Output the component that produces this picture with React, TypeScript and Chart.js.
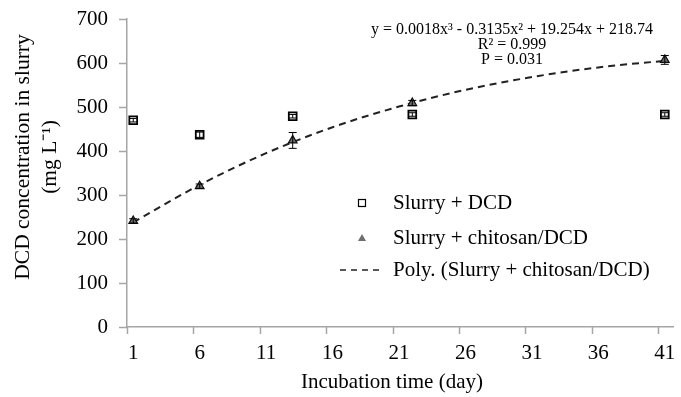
import React, { useEffect, useRef } from "react";
import { Chart, registerables } from "chart.js";

Chart.register(...registerables);

// ---- data ----
const days = [1, 6, 13, 22, 41];
const slurryDCD = [470, 437, 479, 483, 483];
const slurryDCDErr = [4, 6, 4, 4, 4];
const chitosanDCD = [241, 320, 424, 509, 607];
const chitosanDCDErr = [5, 5, 18, 6, 10];
const trendDays = [1, 6, 11, 16, 21, 26, 31, 36, 41];
const trendValues = [238, 323, 395, 454, 501, 539, 568, 590, 605];
const xTickValues = [1, 6, 11, 16, 21, 26, 31, 36, 41];
const yTickValues = [0, 100, 200, 300, 400, 500, 600, 700];

const seriesNames = ["Slurry + DCD", "Slurry + chitosan/DCD", "Poly. (Slurry + chitosan/DCD)"];
const equationLines = ["y = 0.0018x³ - 0.3135x² + 19.254x + 218.74", "R² = 0.999", "P = 0.031"];
const yTitleLines = ["DCD concentration in slurry", "(mg L⁻¹)"];
const xTitle = "Incubation time (day)";

const FONT = '"Liberation Serif", "Times New Roman", serif';
const AXIS_COLOR = "#a6a6a6";
const TRI_FILL = "#6e6e6e";
const AREA_RIGHT = 680;

const overlayPlugin = {
  id: "overlay",
  afterDatasetsDraw(chart: any) {
    const ctx = chart.ctx as CanvasRenderingContext2D;
    const xs = chart.scales.x;
    const ys = chart.scales.y;
    ctx.save();
    const drawErr = (vals: number[], errs: number[]) => {
      ctx.strokeStyle = "#000";
      ctx.lineWidth = 1;
      vals.forEach((v, i) => {
        const px = xs.getPixelForValue(days[i]);
        const top = ys.getPixelForValue(v + errs[i]);
        const bot = ys.getPixelForValue(v - errs[i]);
        ctx.beginPath();
        ctx.moveTo(px, top);
        ctx.lineTo(px, bot);
        ctx.moveTo(px - 4, top);
        ctx.lineTo(px + 4, top);
        ctx.moveTo(px - 4, bot);
        ctx.lineTo(px + 4, bot);
        ctx.stroke();
      });
    };
    drawErr(slurryDCD, slurryDCDErr);
    drawErr(chitosanDCD, chitosanDCDErr);
    ctx.restore();
  },
  afterDraw(chart: any) {
    const ctx = chart.ctx as CanvasRenderingContext2D;
    const xs = chart.scales.x;
    const ys = chart.scales.y;
    const area = chart.chartArea;
    ctx.save();
    // tick marks
    ctx.strokeStyle = AXIS_COLOR;
    ctx.lineWidth = 1.5;
    xTickValues.forEach((v) => {
      const px = Math.round(xs.getPixelForValue(v) - 6.5) + 0.5;
      ctx.beginPath();
      ctx.moveTo(px, area.bottom);
      ctx.lineTo(px, area.bottom + 7);
      ctx.stroke();
    });
    yTickValues.forEach((v) => {
      const py = Math.round(ys.getPixelForValue(v)) + 0.5;
      ctx.beginPath();
      ctx.moveTo(area.left - 8, py);
      ctx.lineTo(area.left, py);
      ctx.stroke();
    });

    // equation
    ctx.fillStyle = "#000";
    ctx.textAlign = "center";
    ctx.textBaseline = "middle";
    ctx.font = `16px ${FONT}`;
    const eqY = [30, 45, 60];
    equationLines.forEach((t, i) => ctx.fillText(t, 512, eqY[i]));

    // x title
    ctx.font = `21px ${FONT}`;
    ctx.fillText(xTitle, 392, 382);

    // y title
    ctx.font = `21.5px ${FONT}`;
    const tx = [23, 50];
    yTitleLines.forEach((t, i) => {
      ctx.save();
      ctx.translate(tx[i], 157);
      ctx.rotate(-Math.PI / 2);
      ctx.fillText(t, 0, 0);
      ctx.restore();
    });

    // legend
    ctx.textAlign = "left";
    ctx.font = `21px ${FONT}`;
    const ly = [203, 238, 270];
    const mx = 362;
    ctx.strokeStyle = "#000";
    ctx.lineWidth = 1.2;
    ctx.fillStyle = "#fff";
    ctx.fillRect(mx - 3.5, ly[0] - 3.5, 7, 7);
    ctx.strokeRect(mx - 3.5, ly[0] - 3.5, 7, 7);
    ctx.fillStyle = TRI_FILL;
    ctx.beginPath();
    ctx.moveTo(mx, ly[1] - 4);
    ctx.lineTo(mx + 4, ly[1] + 3);
    ctx.lineTo(mx - 4, ly[1] + 3);
    ctx.closePath();
    ctx.fill();
    ctx.strokeStyle = "#222";
    ctx.lineWidth = 1.5;
    ctx.setLineDash([6, 5]);
    ctx.beginPath();
    ctx.moveTo(340, ly[2]);
    ctx.lineTo(384, ly[2]);
    ctx.stroke();
    ctx.setLineDash([]);
    ctx.fillStyle = "#000";
    seriesNames.forEach((t, i) => ctx.fillText(t, 393, ly[i]));
    ctx.restore();
  },
};

export default function App() {
  const ref = useRef<HTMLCanvasElement | null>(null);
  useEffect(() => {
    if (!ref.current) return;
    const chart: any = new Chart(ref.current, {
      type: "scatter",
      data: {
        datasets: [
          {
            type: "line",
            label: seriesNames[2],
            data: trendDays.map((d, i) => ({ x: d, y: trendValues[i] })),
            borderColor: "#222",
            borderWidth: 2,
            borderDash: [7, 5],
            pointRadius: 0,
            fill: false,
            cubicInterpolationMode: "monotone",
            order: 3,
          } as any,
          {
            label: seriesNames[0],
            data: days.map((d, i) => ({ x: d, y: slurryDCD[i] })),
            pointStyle: "rect",
            pointRadius: 5.5,
            backgroundColor: "#fff",
            borderColor: "#000",
            borderWidth: 1.8,
            order: 1,
          },
          {
            label: seriesNames[1],
            data: days.map((d, i) => ({ x: d, y: chitosanDCD[i] })),
            pointStyle: "triangle",
            pointRadius: 5,
            backgroundColor: TRI_FILL,
            borderColor: "#111",
            borderWidth: 1.2,
            order: 2,
          },
        ],
      },
      options: {
        animation: false,
        responsive: false,
        maintainAspectRatio: false,
        layout: { padding: { top: 19, right: 1, left: 0, bottom: 0 } },
        plugins: { legend: { display: false }, tooltip: { enabled: false } },
        scales: {
          x: {
            type: "linear",
            min: 0.53,
            max: 41.67,
            afterBuildTicks: (s: any) => {
              s.ticks = xTickValues.map((v) => ({ value: v }));
            },
            afterFit: (s: any) => {
              s.height = 70;
              s.paddingLeft = 0;
              s.paddingRight = 0;
            },
            grid: { display: true, drawOnChartArea: false, drawTicks: true, tickLength: 14, tickColor: "rgba(0,0,0,0)" },
            border: { display: true, color: AXIS_COLOR, width: 1.5 },
            ticks: {
              color: "#000",
              font: { family: FONT, size: 21 },
              padding: 0,
              maxRotation: 0,
              autoSkip: false,
              callback: (v: any) => String(v),
            },
          },
          y: {
            min: 0,
            max: 700,
            afterBuildTicks: (s: any) => {
              s.ticks = yTickValues.map((v) => ({ value: v }));
            },
            afterFit: (s: any) => {
              s.width = 127;
              s.paddingTop = 0;
              s.paddingBottom = 0;
              s.paddingLeft = 0;
              s.paddingRight = 0;
            },
            grid: { display: true, drawOnChartArea: false, drawTicks: true, tickLength: 19, tickColor: "rgba(0,0,0,0)" },
            border: { display: true, color: AXIS_COLOR, width: 1.5 },
            ticks: {
              color: "#000",
              font: { family: FONT, size: 21 },
              padding: 0,
              callback: (v: any) => String(v),
            },
          },
        },
      },
      plugins: [overlayPlugin],
    });
    // compensate any automatic right padding so the plot area ends where the reference's does
    const diff = AREA_RIGHT - chart.chartArea.right;
    if (Math.abs(diff) > 0.5) {
      chart.config.options.layout.padding.right = 1 - diff;
      chart.update();
    }
    return () => chart.destroy();
  }, []);
  return (
    <div style={{ position: "fixed", left: 0, top: 0, width: 681, height: 397, background: "#fff" }}>
      <canvas ref={ref} width={681} height={397} style={{ display: "block", width: 681, height: 397 }} />
    </div>
  );
}
